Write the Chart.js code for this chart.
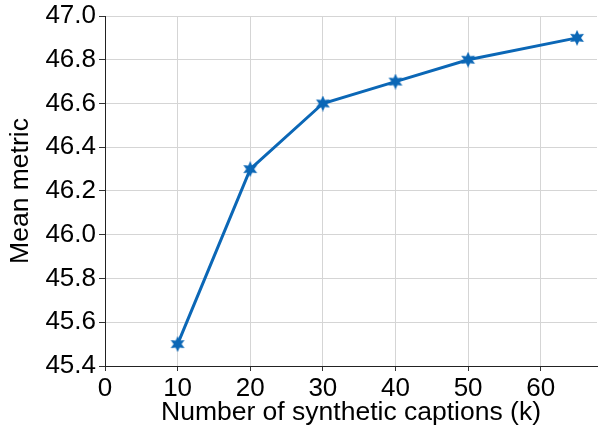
<!DOCTYPE html>
<html>
<head>
<meta charset="utf-8">
<script src="https://cdn.jsdelivr.net/npm/chart.js@4"></script>
<style>
body{margin:0;background:#fff;}
#wrap{width:598px;height:429px;}
</style>
</head>
<body>
<div id="wrap"><canvas id="grafico"></canvas></div>
<script>

// data
const captions=[10,20,30,40,50,65];
const metric=[45.5,46.3,46.6,46.7,46.8,46.9];
const xTicks=[0,10,20,30,40,50,60];
const yTicks=[45.4,45.6,45.8,46.0,46.2,46.4,46.6,46.8,47.0];

const azul="#0b67b6";

// star marker
function makeStar(size){
    const c=document.createElement("canvas");
    c.width=size;c.height=size;
    const ctx=c.getContext("2d");
    const cx=size/2,cy=size/2,R=size/2,r=R*0.5;
    ctx.beginPath();
    for(let i=0;i<12;i++){
        const ang=-Math.PI/2+i*Math.PI/6;
        const rad=i%2===0?R:r;
        const px=cx+rad*Math.cos(ang),py=cy+rad*Math.sin(ang);
        if(i===0)ctx.moveTo(px,py);else ctx.lineTo(px,py);
    }
    ctx.closePath();
    ctx.fillStyle=azul;
    ctx.fill();
    return c;
}

const estrela=makeStar(16);

const fonte="'Liberation Sans', Arial, sans-serif";

new Chart(document.getElementById("grafico"),{

    type:"line",

    data:{
        datasets:[{
            data:captions.map((x,i)=>({x:x,y:metric[i]})),
            borderColor:azul,
            backgroundColor:azul,
            borderWidth:3,
            pointStyle:estrela,
            tension:0
        }]
    },

    options:{
        responsive:true,
        maintainAspectRatio:false,
        animation:false,
        layout:{autoPadding:false,padding:{top:16,right:1,left:0,bottom:0}},
        plugins:{legend:{display:false},tooltip:{enabled:false}},
        scales:{
            x:{
                type:"linear",
                min:0,
                max:67.75,
                afterBuildTicks:s=>{s.ticks=xTicks.map(v=>({value:v}));},
                afterFit:s=>{s.height=63;},
                grid:{color:"#d5d5d5",tickColor:"#333",tickLength:5},
                border:{color:"#222",width:1},
                ticks:{color:"#000",font:{family:fonte,size:26},padding:2,maxRotation:0},
                title:{display:true,text:"Number of synthetic captions (k)",color:"#000",font:{family:fonte,size:26.5},padding:{top:0,bottom:0}}
            },
            y:{
                min:45.4,
                max:47.0,
                afterBuildTicks:s=>{s.ticks=yTicks.map(v=>({value:v}));},
                afterFit:s=>{s.width=105;},
                grid:{color:"#d5d5d5",tickColor:"#333",tickLength:6},
                border:{color:"#222",width:1},
                ticks:{color:"#000",font:{family:fonte,size:26,lineHeight:1},padding:3,callback:v=>v.toFixed(1)},
                title:{display:true,text:"Mean metric",color:"#000",font:{family:fonte,size:26.5},padding:{top:5,bottom:0}}
            }
        }
    }

});

</script>
</body>
</html>
